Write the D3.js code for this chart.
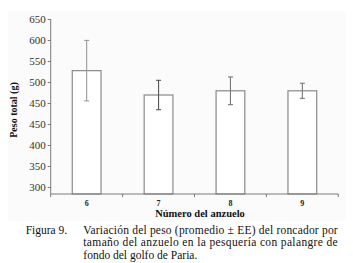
<!DOCTYPE html>
<html><head><meta charset="utf-8">
<script src="https://cdn.jsdelivr.net/npm/d3@7"></script>
<style>body{margin:0;background:#fff}svg{display:block}text{font-family:"Liberation Serif","DejaVu Serif",serif}</style>
</head><body>
<svg id="c" width="353" height="263"></svg>
<script>
const categories = ["6","7","8","9"];
const means = [527, 469, 479, 479];
const errors = [72, 35, 33, 18];
const tickValues = [250,300,350,400,450,500,550,600,650];
const tickLabels = ["300","350","400","450","450","500","550","600","650"];
const captionLabel = "Figura 9.";
const captionLines = ["Variación del peso (promedio ± EE) del roncador por",
                      "tamaño del anzuelo en la pesquería con palangre de",
                      "fondo del golfo de Paria."];

(function(){
const svg = d3.select("#c");
const pL = 50.7, pR = 338.3, pT = 19, pB = 194;

svg.append("rect").attr("x",8).attr("y",11).attr("width",338).attr("height",210).attr("fill","#fbfbfb");

const x = d3.scaleBand().domain(categories).range([pL,pR]).paddingInner(0.6).paddingOuter(0.3);
const y = d3.scaleLinear().domain([233.3,650]).range([pB,pT]);

svg.selectAll("rect.bar").data(categories).enter().append("rect")
  .attr("class","bar")
  .attr("x",d=>x(d)).attr("width",x.bandwidth())
  .attr("y",(d,i)=>y(means[i])).attr("height",(d,i)=>y.range()[0]-y(means[i]))
  .attr("fill","#fff").attr("stroke","#8a8a8a").attr("stroke-width",1.2);

const ecol = ["#9a9a9a","#555","#777","#777"];
categories.forEach((c,i)=>{
  const cx = x(c)+x.bandwidth()/2;
  const g = svg.append("g").attr("stroke",ecol[i]).attr("stroke-width",1.1);
  g.append("line").attr("x1",cx).attr("x2",cx).attr("y1",y(means[i]+errors[i])).attr("y2",y(means[i]-errors[i]));
  [means[i]+errors[i], means[i]-errors[i]].forEach(v=>{
    g.append("line").attr("x1",cx-2.5).attr("x2",cx+2.5).attr("y1",y(v)).attr("y2",y(v));
  });
});

const ya = svg.append("g").attr("transform",`translate(${pL},0)`)
  .call(d3.axisLeft(y).tickValues(tickValues).tickSize(3).tickFormat((d,i)=>tickLabels[i]));
ya.attr("font-family",null);
ya.select(".domain").attr("stroke","#7a7a7a").attr("d",`M0,${pT}V${pB}`);
ya.selectAll(".tick line").attr("stroke","#7a7a7a");
ya.selectAll(".tick text").attr("font-size",11).attr("fill","#333").attr("x",-5);

const xa = svg.append("g").attr("transform",`translate(0,${pB})`);
xa.append("line").attr("x1",pL).attr("x2",pR).attr("stroke","#7a7a7a");
const edges = [pL, ...categories.slice(1).map(c=>x(c)-x.step()*x.paddingInner()/2), pR];
xa.selectAll("line.t").data(edges).enter().append("line").attr("class","t")
  .attr("x1",d=>d).attr("x2",d=>d).attr("y1",0).attr("y2",3).attr("stroke","#7a7a7a");
xa.selectAll("text").data(categories).enter().append("text")
  .attr("x",d=>x(d)+x.bandwidth()/2).attr("y",12).attr("text-anchor","middle")
  .attr("font-weight","bold").attr("font-size",8).attr("fill","#222").text(d=>d);

svg.append("text").attr("x",200).attr("y",217).attr("text-anchor","middle")
  .attr("font-weight","bold").attr("font-size",10.5).attr("fill","#111")
  .text("Número del anzuelo");
svg.append("text").attr("transform","translate(17,110) rotate(-90)").attr("text-anchor","middle")
  .attr("font-weight","bold").attr("font-size",10).attr("fill","#111")
  .text("Peso total (g)");

svg.append("text").attr("x",25.7).attr("y",233.5).attr("font-size",11.5).attr("fill","#111").text(captionLabel);
captionLines.forEach((t,i)=>{
  const tx = svg.append("text").attr("x",83.3).attr("y",233.5+12.5*i).attr("font-size",11.5).attr("fill","#111").text(t);
  if(i<2) tx.attr("textLength",254.4).attr("lengthAdjust","spacing");
});
})();
</script>
</body></html>
